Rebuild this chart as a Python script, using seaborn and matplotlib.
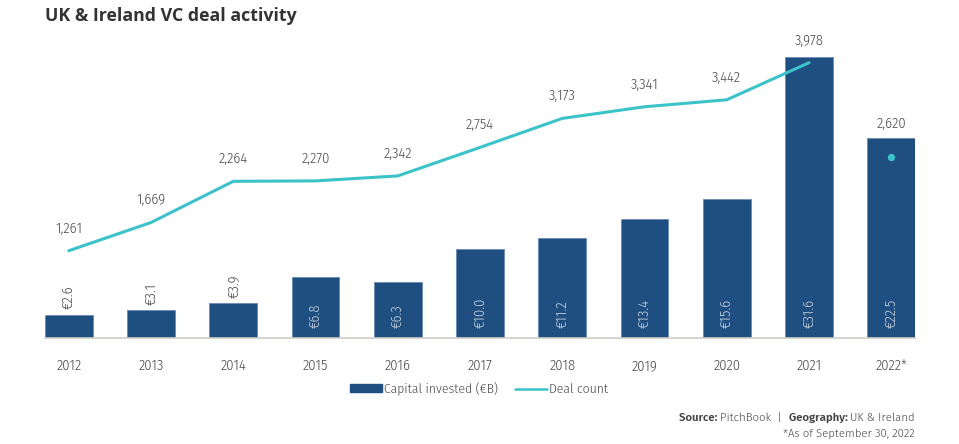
import matplotlib
matplotlib.use("Agg")
import matplotlib.pyplot as plt
import seaborn as sns
import pandas as pd
import numpy as np
from matplotlib.lines import Line2D
from matplotlib.patches import Patch

years = ["2012", "2013", "2014", "2015", "2016", "2017", "2018", "2019", "2020", "2021", "2022*"]
capital = [2.6, 3.1, 3.9, 6.8, 6.3, 10.0, 11.2, 13.4, 15.6, 31.6, 22.5]
deals = [1261, 1669, 2264, 2270, 2342, 2754, 3173, 3341, 3442, 3978, 2620]
capital_labels = ["€2.6", "€3.1", "€3.9", "€6.8", "€6.3", "€10.0", "€11.2", "€13.4", "€15.6", "€31.6", "€22.5"]
deal_labels = ["1,261", "1,669", "2,264", "2,270", "2,342", "2,754", "3,173", "3,341", "3,442", "3,978", "2,620"]

BAR = "#1f4f80"
LINE = "#3cc3c9"
GRAY = "#4a4a4a"
COND = ["Fira Sans Condensed", "DejaVu Sans"]
REG = ["Fira Sans", "DejaVu Sans"]

sns.set_theme(style="white")
plt.rcParams["font.family"] = COND
plt.rcParams["font.weight"] = 300

df = pd.DataFrame({"year": years, "capital": capital, "deals": deals})

fig = plt.figure(figsize=(9.59, 4.44), dpi=100)
ax = fig.add_axes([45 / 959, 1 - 338 / 444, (915 - 45) / 959, 298 / 444])

width = 0.578
sns.barplot(data=df, x="year", y="capital", color=BAR, width=width, ax=ax,
            saturation=1, edgecolor="#6a8cb2", linewidth=0.6)
ax.set_xlim(-width / 2, len(years) - 1 + width / 2)
ax.set_ylim(0, 33.48)

ax2 = ax.twinx()
n_line = len(years) - 1
sns.lineplot(x=np.arange(n_line), y=deals[:n_line], color=LINE, linewidth=2.2, ax=ax2)
ax2.scatter([n_line], [deals[n_line]], color=LINE, s=28, zorder=5, linewidths=0)
ax2.set_ylim(0, 4306)
ax2.set_xlim(ax.get_xlim())

for i, lab in enumerate(deal_labels[:n_line]):
    ax2.annotate(lab, (i, deals[i]), xytext=(0, 11), textcoords="offset points",
                 ha="center", va="bottom", fontsize=10.5, color=GRAY)
# the 2022 deal count label sits above its bar
ax.annotate(deal_labels[n_line], (n_line, capital[n_line]), xytext=(0, 5), textcoords="offset points",
            ha="center", va="bottom", fontsize=10.5, color=GRAY)

for i, (c, lab) in enumerate(zip(capital, capital_labels)):
    if c < 5:
        ax.annotate(lab, (i, c), xytext=(0, 4), textcoords="offset points",
                    ha="center", va="bottom", rotation=90, fontsize=10.5, color=GRAY)
    else:
        ax.annotate(lab, (i, 0), xytext=(0, 7), textcoords="offset points",
                    ha="center", va="bottom", rotation=90, fontsize=10.5, color="#c9d3df")

for a in (ax, ax2):
    for s in a.spines.values():
        s.set_visible(False)
    a.set_yticks([])
    a.set_ylabel("")
ax.spines["bottom"].set_visible(True)
ax.spines["bottom"].set_color("#d0cdc8")
ax.spines["bottom"].set_linewidth(1.2)
ax.set_xlabel("")
ax.tick_params(axis="x", length=0, pad=15, labelsize=10.5, labelcolor=GRAY)

handles = [Patch(facecolor=BAR, edgecolor=BAR), Line2D([0], [0], color=LINE, lw=1.8)]
fig.legend(handles, ["Capital invested (€B)", "Deal count"], loc="center",
           bbox_to_anchor=(479 / 959, 1 - 389 / 444), ncol=2, frameon=False,
           prop={"family": COND, "weight": 300, "size": 9.8},
           handlelength=2.4, handleheight=0.5, columnspacing=1.2,
           handletextpad=0.15, labelcolor=GRAY)

fig.text(45 / 959, 1 - 16 / 444, "UK & Ireland VC deal activity", fontsize=12.8,
         fontweight="bold", color="#333333", va="center", family=["Open Sans", "DejaVu Sans"])

# source line built from pieces, right-aligned at x=915
renderer = fig.canvas.get_renderer()
pieces = [("Source: ", 600), ("PitchBook  |  ", 300), ("Geography: ", 600), ("UK & Ireland", 300)]
x_right = 915
y_src = 1 - 418 / 444
for txt, w in reversed(pieces):
    t = fig.text(x_right / 959, y_src, txt, fontsize=8.2, ha="right", va="center",
                 color="#444444", family=REG, fontweight=w)
    bb = t.get_window_extent(renderer)
    x_right -= bb.width
fig.text(915 / 959, 1 - 434 / 444, "*As of September 30, 2022", fontsize=8.2,
         ha="right", va="center", color="#444444", family=REG, fontweight=300)

fig.savefig("out.png", dpi=100)
